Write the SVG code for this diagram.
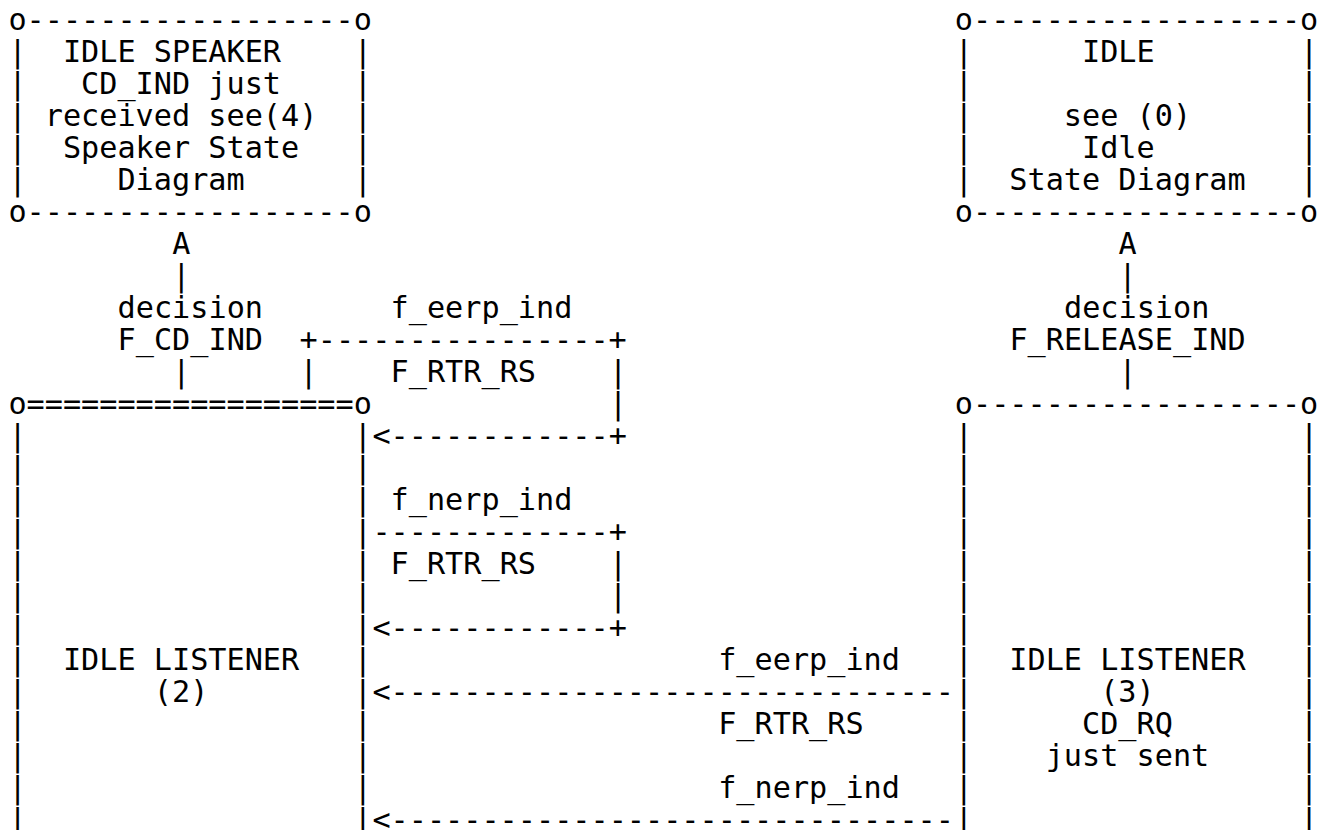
<svg xmlns="http://www.w3.org/2000/svg" width="1328" height="830" viewBox="0 0 1328 830">
<style>
text { font-family: "DejaVu Sans Mono", "Liberation Mono", monospace; font-size: 30.2px; fill: #000; white-space: pre; }
</style>
<rect x="0" y="0" width="1328" height="830" fill="#fff"/>
<g id="node-idle-speaker" xml:space="preserve">
<text x="8.4" y="29.7">o------------------o</text>
<text x="8.4" y="61.7">|  IDLE SPEAKER    |</text>
<text x="8.4" y="93.7">|   CD_IND just    |</text>
<text x="8.4" y="125.7">| received see(4)  |</text>
<text x="8.4" y="157.7">|  Speaker State   |</text>
<text x="8.4" y="189.7">|     Diagram      |</text>
<text x="8.4" y="221.7">o------------------o</text>
</g>
<g id="node-idle" xml:space="preserve">
<text x="954.8" y="29.7">o------------------o</text>
<text x="954.8" y="61.7">|      IDLE        |</text>
<text x="954.8" y="93.7">|                  |</text>
<text x="954.8" y="125.7">|     see (0)      |</text>
<text x="954.8" y="157.7">|      Idle        |</text>
<text x="954.8" y="189.7">|  State Diagram   |</text>
<text x="954.8" y="221.7">o------------------o</text>
</g>
<g id="node-idle-listener-2" xml:space="preserve">
<text x="8.4" y="413.7">o==================o</text>
<text x="8.4" y="445.7">|                  |</text>
<text x="8.4" y="477.7">|                  |</text>
<text x="8.4" y="509.7">|                  |</text>
<text x="8.4" y="541.7">|                  |</text>
<text x="8.4" y="573.7">|                  |</text>
<text x="8.4" y="605.7">|                  |</text>
<text x="8.4" y="637.7">|                  |</text>
<text x="8.4" y="669.7">|  IDLE LISTENER   |</text>
<text x="8.4" y="701.7">|       (2)        |</text>
<text x="8.4" y="733.7">|                  |</text>
<text x="8.4" y="765.7">|                  |</text>
<text x="8.4" y="797.7">|                  |</text>
<text x="8.4" y="829.7">|                  |</text>
</g>
<g id="node-idle-listener-3" xml:space="preserve">
<text x="954.8" y="413.7">o------------------o</text>
<text x="954.8" y="445.7">|                  |</text>
<text x="954.8" y="477.7">|                  |</text>
<text x="954.8" y="509.7">|                  |</text>
<text x="954.8" y="541.7">|                  |</text>
<text x="954.8" y="573.7">|                  |</text>
<text x="954.8" y="605.7">|                  |</text>
<text x="954.8" y="637.7">|                  |</text>
<text x="954.8" y="669.7">|  IDLE LISTENER   |</text>
<text x="954.8" y="701.7">|       (3)        |</text>
<text x="954.8" y="733.7">|      CD_RQ       |</text>
<text x="954.8" y="765.7">|    just sent     |</text>
<text x="954.8" y="797.7">|                  |</text>
<text x="954.8" y="829.7">|                  |</text>
</g>
<g id="connectors" xml:space="preserve">
<text x="172.2" y="253.7">A</text>
<text x="172.2" y="285.7">|</text>
<text x="117.6" y="317.7">decision</text>
<text x="117.6" y="349.7">F_CD_IND</text>
<text x="172.2" y="381.7">|</text>
<text x="1118.6" y="253.7">A</text>
<text x="1118.6" y="285.7">|</text>
<text x="1064" y="317.7">decision</text>
<text x="1009.4" y="349.7">F_RELEASE_IND</text>
<text x="1118.6" y="381.7">|</text>
<text x="390.6" y="317.7">f_eerp_ind</text>
<text x="299.6" y="349.7">+----------------+</text>
<text x="299.6" y="381.7">|</text>
<text x="390.6" y="381.7">F_RTR_RS</text>
<text x="609" y="381.7">|</text>
<text x="609" y="413.7">|</text>
<text x="372.4" y="445.7">&lt;------------+</text>
<text x="390.6" y="509.7">f_nerp_ind</text>
<text x="372.4" y="541.7">-------------+</text>
<text x="390.6" y="573.7">F_RTR_RS</text>
<text x="609" y="573.7">|</text>
<text x="609" y="605.7">|</text>
<text x="372.4" y="637.7">&lt;------------+</text>
<text x="718.2" y="669.7">f_eerp_ind</text>
<text x="372.4" y="701.7">&lt;-------------------------------</text>
<text x="718.2" y="733.7">F_RTR_RS</text>
<text x="718.2" y="797.7">f_nerp_ind</text>
<text x="372.4" y="829.7">&lt;-------------------------------</text>
</g>
</svg>
